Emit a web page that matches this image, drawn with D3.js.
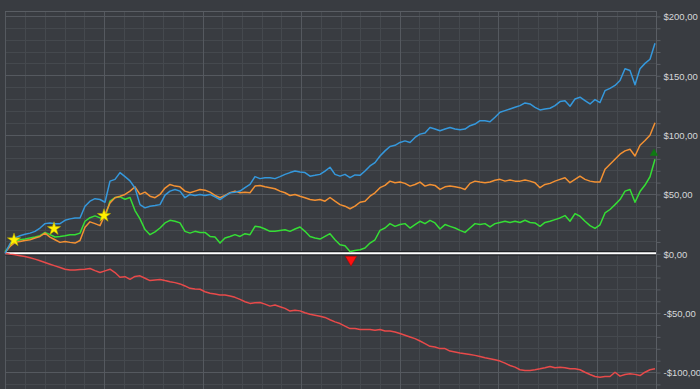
<!DOCTYPE html>
<html>
<head>
<meta charset="utf-8">
<script src="https://cdn.jsdelivr.net/npm/d3@7"></script>
<style>
  html, body { margin: 0; padding: 0; background: #393c41; }
  svg { display: block; }
  .ylab { font-family: "Liberation Sans", Arial, sans-serif; font-size: 9.5px; fill: #d6d7d9; }
</style>
</head>
<body>
<svg id="chart" width="700" height="389"></svg>
<script>
// equity curves, one value per bar (dollars)
const blue = [
  0, 8, 13, 14.8, 16, 17, 18.5, 21.3, 25, 25.6,
  25, 25, 27.8, 29, 29.8, 29.8, 39.7, 43.9, 46, 45.3,
  43, 60.8, 62.3, 68, 64.6, 61, 55, 41, 38.3, 39.7,
  40.3, 41, 49, 52.4, 53.8, 52.4, 46.8, 49.6, 48.7, 49.6,
  48.7, 49.6, 47.6, 45.3, 48.1, 51, 51.5, 52.4, 55.3, 58,
  64.6, 62.9, 63.7, 63.7, 62.9, 64.6, 66.5, 68, 69.3, 68.5,
  68, 65, 65.7, 66.5, 69.3, 72.5, 66.5, 65, 66.5, 63.7,
  66, 65.7, 69.3, 73.6, 76.4, 82, 86.3, 90, 91, 93.4,
  94.7, 93.4, 97.6, 100.4, 101.3, 106, 104.7, 103.2, 104.7, 106,
  104.7, 104, 104.7, 107.5, 108.9, 111.7, 111.7, 110.8, 114.6, 118.8,
  120.2, 121.6, 123, 124.4, 126.7, 125.8, 123, 120.8, 121.6, 122.2,
  124.4, 127.8, 128.6, 123.9, 130, 131.5, 128.6, 125.8, 129.5, 127,
  137, 139, 141.4, 145.6, 155.5, 154, 142, 155.5, 160, 163.5, 177
];
const orange = [
  0.7, 5.8, 9.2, 10, 10.8, 11.4, 12.9, 14.2, 17, 13.7,
  11.4, 9.2, 10, 9.2, 8.6, 10.8, 22, 26.5, 25, 23.3,
  32.6, 42.5, 46.8, 48.1, 49.6, 52.4, 56, 49.6, 51.5, 48.1,
  46.8, 49.6, 55, 58, 56.6, 56, 52.4, 51, 52.4, 53.8,
  53.2, 51.5, 48.7, 46.8, 48.7, 51, 52.4, 51, 51.5, 51,
  56.6, 57.2, 56, 55.3, 54.4, 52.4, 51, 48.7, 49.6, 48.1,
  46.8, 45.3, 44.7, 45.3, 43.9, 47, 43.9, 41, 39.7, 37.5,
  39.7, 43, 43.9, 48.1, 51, 55.3, 57.2, 60.8, 59.5, 60,
  58.9, 56.6, 58, 60, 56.6, 58, 57.2, 53.8, 56, 56.6,
  56, 55.3, 53.8, 58.9, 60.8, 60, 59.5, 60, 61.5, 62.3,
  60.8, 61.7, 60.8, 60.8, 61.7, 60.8, 59.5, 55.3, 58, 58.9,
  60.8, 62.3, 63.7, 59.5, 62.3, 65, 62.3, 60.8, 60, 60,
  70.8, 75, 79.2, 83.5, 86.3, 87.7, 82, 91, 95, 99.5, 110
];
const green = [
  1.5, 6.4, 10, 11.4, 12, 12.9, 13.7, 14.8, 17.6, 15.7,
  13.7, 14.2, 14.8, 15.7, 15.7, 17, 27, 30, 31.5, 29.8,
  30, 44, 47, 47.5, 45.5, 47, 36, 29, 20, 15.7,
  18, 21.3, 25.6, 27.8, 27, 25.6, 18.5, 17, 18.5, 17.6,
  17.6, 14.2, 13.7, 8.6, 12.9, 14.2, 15.7, 14.2, 16.5, 15.7,
  22.7, 22.2, 20.5, 18.5, 18.5, 19.3, 19.9, 18.5, 20.5, 22.2,
  18.5, 14.2, 12.9, 12, 14.2, 16.5, 11.4, 7.2, 6.4, 1.5,
  2.4, 3, 4.4, 8.6, 11.4, 19.3, 21.3, 25, 22.7, 24.2,
  25, 21.3, 24.2, 27, 25, 27.8, 25.6, 20.5, 24.2, 22.7,
  21.3, 19.3, 17.6, 21.3, 25, 24.2, 25, 22.2, 25, 26,
  27, 26, 27, 26, 27.8, 26, 25.6, 22.7, 26, 27,
  28.4, 29.8, 31.8, 27, 33.5, 31.2, 27, 23.3, 21, 24,
  34, 36.9, 41, 45.3, 52.4, 53.8, 43, 52, 57.5, 64.5, 79.2
];
const red = [
  0, -0.7, -1.3, -2, -2.7, -3.8, -4.9, -6.3, -7.8, -9.2,
  -10.6, -12, -13.4, -14, -14, -13.7, -13.4, -12.8, -14.6, -16.2,
  -14.8, -13.4, -16.2, -20.2, -19.7, -21.9, -19.5, -19, -21, -23,
  -22.5, -22, -23, -23.9, -24.7, -25.8, -27.5, -29.5, -30, -30.3,
  -32.4, -33.7, -34.3, -35.2, -35.2, -36, -37.1, -38.8, -40.8, -42.2,
  -41.7, -41.5, -42.8, -44.5, -43.6, -45, -46.4, -48.7, -47.9, -48.5,
  -50.1, -51.3, -52.1, -53, -54, -56, -57.8, -59.2, -61.4, -63.4,
  -63.4, -64.2, -64.2, -64.2, -64.8, -64.2, -65.4, -65.4, -66.3, -67.6,
  -69, -70.5, -71.9, -73.9, -76.1, -78.4, -79, -80.3, -80.3, -82.4,
  -83.2, -84, -84.6, -85.2, -86, -86.9, -88, -88.8, -89.7, -90.8,
  -92.5, -94.5, -95.9, -98.1, -98.7, -98.7, -98.1, -97.3, -96.4, -95.3,
  -96.4, -95.9, -96.4, -97.3, -97.3, -98.1, -100.2, -102.1, -103.8, -104.4,
  -103.8, -103.8, -100.2, -103.5, -102.1, -101.5, -102, -103, -100.2, -98.1, -97.3
];

// markers: bar index and dollar level
const starIdx = [1.8, 9.8, 19.8];
const starVal = [11.2, 20.7, 31.7];
const downIdx = [69.2];
const downVal = [-5.3];
const upIdx = [129.8];
const upVal = [84.2];

const yTicks = d3.range(-110, 201, 10);
const yLabels = [-100, -50, 0, 50, 100, 150, 200];

const series = [
  { values: red, color: '#e84a4a' },
  { values: green, color: '#35de35' },
  { values: orange, color: '#f39133' },
  { values: blue, color: '#3598dc' },
];

const width = 700, height = 389;
const plot = { left: 5, right: 656, top: 11, bottom: 389 };

const svg = d3.select('#chart');

const xScale = d3.scaleLinear().domain([0, blue.length - 1]).range([5, 655]);
const yScale = d3.scaleLinear().domain([0, 200]).range([253.3, 15.9]);
// time grid: 33 minor divisions, a major one every 5
const gridScale = d3.scaleLinear().domain([0, 33]).range([plot.left + 0.4, plot.right]);

svg.append('rect')
  .attr('width', width).attr('height', height)
  .attr('fill', '#393c41');

const grid = svg.append('g').attr('class', 'grid');

grid.selectAll('line.hminor')
  .data(yTicks.filter(d => d % 50 !== 0))
  .join('line')
  .attr('x1', plot.left).attr('x2', plot.right)
  .attr('y1', d => Math.round(yScale(d)) + 0.5)
  .attr('y2', d => Math.round(yScale(d)) + 0.5)
  .attr('stroke', '#45494e');

grid.selectAll('line.vminor')
  .data(d3.range(0, 34).filter(d => d % 5 !== 0))
  .join('line')
  .attr('x1', d => Math.round(gridScale(d)) + 0.5)
  .attr('x2', d => Math.round(gridScale(d)) + 0.5)
  .attr('y1', plot.top).attr('y2', plot.bottom)
  .attr('stroke', '#45494e');

grid.selectAll('line.hmajor')
  .data(yLabels)
  .join('line')
  .attr('x1', plot.left).attr('x2', plot.right)
  .attr('y1', d => Math.round(yScale(d)) + 0.5)
  .attr('y2', d => Math.round(yScale(d)) + 0.5)
  .attr('stroke', '#55595f');

grid.selectAll('line.vmajor')
  .data(d3.range(0, 34, 5))
  .join('line')
  .attr('x1', d => Math.round(gridScale(d)) + 0.5)
  .attr('x2', d => Math.round(gridScale(d)) + 0.5)
  .attr('y1', plot.top).attr('y2', plot.bottom)
  .attr('stroke', '#55595f');

// frame top / right
grid.append('line')
  .attr('x1', plot.left).attr('x2', plot.right)
  .attr('y1', plot.top + 0.5).attr('y2', plot.top + 0.5)
  .attr('stroke', '#5a5e64');
grid.append('line')
  .attr('x1', plot.right + 0.5).attr('x2', plot.right + 0.5)
  .attr('y1', plot.top).attr('y2', plot.bottom)
  .attr('stroke', '#5a5e64');

// right axis
const fmt = d => (d < 0 ? '-' : '') + '$' + Math.abs(d) + ',00';
const yAxis = d3.axisRight(yScale)
  .tickValues(yTicks)
  .tickSize(4)
  .tickPadding(3)
  .tickFormat(d => (d % 50 === 0 ? fmt(d) : ''));

const axisG = svg.append('g')
  .attr('transform', `translate(${plot.right + 0.5}, 0.5)`)
  .call(yAxis);
axisG.select('.domain').remove();
axisG.selectAll('.tick line').attr('stroke', '#5a5e64');
axisG.selectAll('.tick text').attr('class', 'ylab').attr('dy', '0.35em');

// zero line
const y0 = yScale(0);
svg.append('line')
  .attr('x1', plot.left).attr('x2', plot.right)
  .attr('y1', y0).attr('y2', y0)
  .attr('stroke', '#1f2124').attr('stroke-width', 4.5);
svg.append('line')
  .attr('x1', plot.left).attr('x2', plot.right)
  .attr('y1', y0).attr('y2', y0)
  .attr('stroke', '#ffffff').attr('stroke-width', 2);

// series
const line = d3.line()
  .x((d, i) => xScale(i))
  .y(d => yScale(d));

svg.append('g')
  .selectAll('path')
  .data(series)
  .join('path')
  .attr('d', d => line(d.values))
  .attr('fill', 'none')
  .attr('stroke', d => d.color)
  .attr('stroke-width', 1.5)
  .attr('stroke-linejoin', 'round');

// markers
svg.append('g')
  .selectAll('path')
  .data(starIdx.map((d, i) => [d, starVal[i]]))
  .join('path')
  .attr('d', d3.symbol(d3.symbolStar, 55))
  .attr('transform', d => `translate(${xScale(d[0])},${yScale(d[1])})`)
  .attr('fill', '#fff000')
  .attr('stroke', '#b8a800')
  .attr('stroke-width', 0.5);

svg.append('g')
  .selectAll('path')
  .data(downIdx.map((d, i) => [d, downVal[i]]))
  .join('path')
  .attr('d', d3.symbol(d3.symbolTriangle, 58))
  .attr('transform', d => `translate(${xScale(d[0])},${yScale(d[1])}) rotate(180)`)
  .attr('fill', '#ff1010')
  .attr('stroke', '#a00000')
  .attr('stroke-width', 0.5);

svg.append('g')
  .selectAll('path')
  .data(upIdx.map((d, i) => [d, upVal[i]]))
  .join('path')
  .attr('d', d3.symbol(d3.symbolTriangle, 30))
  .attr('transform', d => `translate(${xScale(d[0])},${yScale(d[1])})`)
  .attr('fill', '#0f7a12');
</script>
</body>
</html>
